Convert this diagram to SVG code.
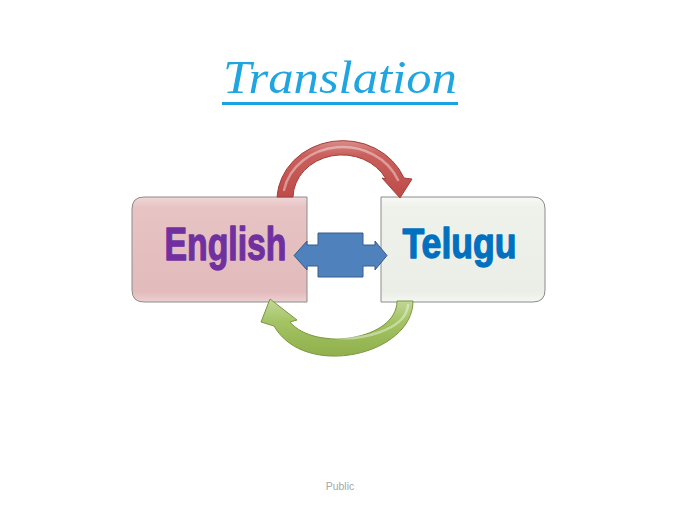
<svg xmlns="http://www.w3.org/2000/svg" width="680" height="510" viewBox="0 0 680 510">
  <defs>
    <linearGradient id="gEng" x1="0" y1="0" x2="0" y2="1">
      <stop offset="0" stop-color="#F0D6D7"/>
      <stop offset="0.1" stop-color="#E7C3C4"/>
      <stop offset="0.9" stop-color="#E2BBBC"/>
      <stop offset="1" stop-color="#EDD0D1"/>
    </linearGradient>
    <linearGradient id="gTel" x1="0" y1="0" x2="0" y2="1">
      <stop offset="0" stop-color="#F7F9F4"/>
      <stop offset="0.1" stop-color="#EFF2EB"/>
      <stop offset="0.9" stop-color="#EBEEE6"/>
      <stop offset="1" stop-color="#F5F7F2"/>
    </linearGradient>
    <linearGradient id="gRed" x1="0" y1="0" x2="0" y2="1">
      <stop offset="0" stop-color="#D98C8A"/>
      <stop offset="0.25" stop-color="#C9605C"/>
      <stop offset="1" stop-color="#BE4B48"/>
    </linearGradient>
    <linearGradient id="gGreen" x1="0" y1="0" x2="0" y2="1">
      <stop offset="0" stop-color="#C3D89A"/>
      <stop offset="0.4" stop-color="#A4C363"/>
      <stop offset="1" stop-color="#8FB04C"/>
    </linearGradient>
    <style>
      .box { stroke: #8C8C8C; stroke-width: 1; }
      .lbl { font-family: "Liberation Sans", Arial, sans-serif; font-weight: bold; stroke-width: 1.3; stroke-linejoin: round; }
      .arc { stroke-width: 1; stroke-linejoin: round; }
      .hl { fill: none; stroke: #FFFFFF; stroke-opacity: 0.4; stroke-width: 2.5; stroke-linecap: round; }
    </style>
  </defs>

  <g id="title">
    <text x="340" y="93" text-anchor="middle" font-family="'Liberation Serif', 'DejaVu Serif', serif" font-style="italic" font-size="47" fill="#1FA5E0" textLength="234" lengthAdjust="spacingAndGlyphs">Translation</text>
    <rect x="222" y="102" width="236" height="3" fill="#1AA3E0"/>
  </g>

  <g id="node-english">
    <path class="box" d="M307 197 L144 197 Q132 197 132 209 L132 290 Q132 302 144 302 L307 302 Z" fill="url(#gEng)"/>
    <text class="lbl" x="225.5" y="260" text-anchor="middle" font-size="46" fill="#7030A0" stroke="#7030A0" textLength="122" lengthAdjust="spacingAndGlyphs">English</text>
  </g>

  <g id="node-telugu">
    <path class="box" d="M381 197 L533 197 Q545 197 545 209 L545 290 Q545 302 533 302 L381 302 Z" fill="url(#gTel)"/>
    <text class="lbl" x="459.5" y="258" text-anchor="middle" font-size="43" fill="#0070C0" stroke="#0070C0" textLength="114" lengthAdjust="spacingAndGlyphs">Telugu</text>
  </g>

  <g id="connectors">
    <g id="arrow-red">
      <path class="arc" d="M277 197 A66 60 0 0 1 404 178 L412 179 L400 198 L382 178 L386 179 A49 43 0 0 0 293 197 Z" fill="url(#gRed)" stroke="#A33F3C"/>
      <path class="hl" d="M284 190 A60 54 0 0 1 398 180"/>
    </g>
    <g id="arrow-green">
      <path class="arc" d="M413 301 C413 355 305 380 274 326 L261 322 L270 299 L297 320 L290 322 C315 352 397 340 397 301 Z" fill="url(#gGreen)" stroke="#7A9740"/>
      <path class="hl" d="M408 305 C406 330 360 342 330 337"/>
    </g>
    <path id="arrow-both" d="M294 255.5 L307 241 L307 245 L318 245 L318 233 L363 233 L363 245 L375 245 L375 241 L387 255.5 L375 270 L375 266 L363 266 L363 277 L318 277 L318 266 L307 266 L307 270 Z" fill="#4F81BD" stroke="#385D8A" stroke-width="1"/>
  </g>

  <text x="340" y="490" text-anchor="middle" font-family="'Liberation Sans', Arial, sans-serif" font-size="10.5" fill="#A6A6A6">Public</text>
</svg>
